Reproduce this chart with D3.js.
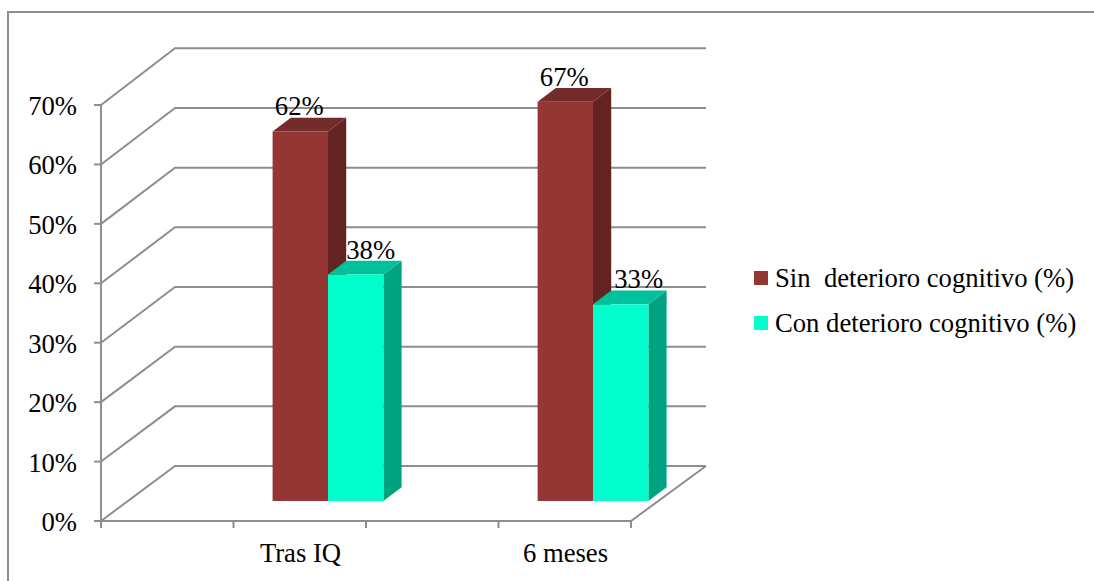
<!DOCTYPE html>
<html>
<head>
<meta charset="utf-8">
<script src="https://cdn.jsdelivr.net/npm/d3@7"></script>
<style>
html, body { margin: 0; padding: 0; background: #fff; }
svg { display: block; }
text { font-family: "Liberation Serif", serif; fill: #000; }
</style>
</head>
<body>
<svg id="chart" width="1094" height="581"></svg>
<script>
const categories = ["Tras IQ", "6 meses"];
const seriesNames = ["Sin  deterioro cognitivo (%)", "Con deterioro cognitivo (%)"];
const sinDeterioro = [62, 67];
const conDeterioro = [38, 33];
const axisTicks = [0, 10, 20, 30, 40, 50, 60, 70];
const frontColors = ["#943634", "#00ffcc"];
const topColors = ["#742c2a", "#00c19b"];
const sideColors = ["#632321", "#00a380"];
const gridColor = "#8e8e8e";
const fontSize = 26.67;

const svg = d3.select("#chart");

// Front plane scales and the matching scales for the raised back wall
const yAxis = d3.scaleLinear().domain([0, 70]).range([521, 105]);
const yBack = d3.scaleLinear().domain([0, 70]).range([466, 48.3]);
const xAxis = d3.scaleLinear().domain([0, 1]).range([101, 631]);
const xBack = d3.scaleLinear().domain([0, 1]).range([175, 706]);
const xCategory = d3.scaleBand().domain(categories).range([168, 698]);

// Bars stand on their own floor line, in front of the back wall
const barBase = 501;
const barHeight = d3.scaleLinear().domain([0, 100]).range([0, 596]);
const barWidth = 55.4;
const barDepth = { x: 18.2, y: -13.8 };
const labelShift = [[-1, -1], [15, 18]];

const grid = svg.append("g").attr("fill", "none").attr("stroke", gridColor).attr("stroke-width", 2);

// Chart frame, open on the page edges
grid.append("path").attr("d", d3.line()([[8, 581], [8, 12], [1094, 12]]));

// Side wall diagonals and back wall gridlines
axisTicks.forEach(t => {
  grid.append("path").attr("d", d3.line()([
    [xAxis(0), yAxis(t)],
    [xBack(0), yBack(t)],
    [xBack(1), yBack(t)]
  ]));
  grid.append("line").attr("x1", xAxis(0) - 7).attr("x2", xAxis(0)).attr("y1", yAxis(t)).attr("y2", yAxis(t));
});

// Vertical axis, floor edges and category ticks
grid.append("line").attr("x1", xAxis(0)).attr("x2", xAxis(0)).attr("y1", yAxis(70)).attr("y2", yAxis(0));
grid.append("path").attr("d", d3.line()([
  [xAxis(0), yAxis(0)],
  [xAxis(1), yAxis(0)],
  [xBack(1), yBack(0)]
]));
d3.range(0, 1.01, 0.25).forEach(f => {
  grid.append("line").attr("x1", xAxis(f)).attr("x2", xAxis(f)).attr("y1", yAxis(0)).attr("y2", yAxis(0) + 7);
});

// Axis labels
svg.append("g").selectAll("text").data(axisTicks).join("text")
  .attr("x", 77).attr("y", d => yAxis(d) + 10)
  .attr("text-anchor", "end").attr("font-size", fontSize)
  .text(d => d + "%");

svg.append("g").selectAll("text").data(categories).join("text")
  .attr("x", d => xCategory(d) + xCategory.bandwidth() / 2).attr("y", 562)
  .attr("text-anchor", "middle").attr("font-size", fontSize)
  .text(d => d);

// Bars, drawn series by series so each one overlaps the previous one's side
[sinDeterioro, conDeterioro].forEach((values, s) => {
  categories.forEach((c, i) => {
    const center = xCategory(c) + xCategory.bandwidth() / 2 + 27.5;
    const x0 = center + (s - 1) * barWidth;
    const x1 = x0 + barWidth;
    const top = barBase - barHeight(values[i]);
    const g = svg.append("g");
    g.append("path").attr("fill", sideColors[s]).attr("d", d3.line()([
      [x1, top], [x1 + barDepth.x, top + barDepth.y],
      [x1 + barDepth.x, barBase + barDepth.y], [x1, barBase]
    ]) + "Z");
    g.append("path").attr("fill", topColors[s]).attr("d", d3.line()([
      [x0, top], [x0 + barDepth.x, top + barDepth.y],
      [x1 + barDepth.x, top + barDepth.y], [x1, top]
    ]) + "Z");
    g.append("rect").attr("fill", frontColors[s])
      .attr("x", x0).attr("y", top).attr("width", barWidth).attr("height", barBase - top);
  });
});

// Value labels sit on top of the bars
[sinDeterioro, conDeterioro].forEach((values, s) => {
  categories.forEach((c, i) => {
    const center = xCategory(c) + xCategory.bandwidth() / 2 + 27.5;
    const x0 = center + (s - 1) * barWidth;
    svg.append("text")
      .attr("x", x0 + barWidth / 2 + labelShift[s][i])
      .attr("y", barBase - barHeight(values[i]) - 16)
      .attr("text-anchor", "middle").attr("font-size", fontSize)
      .text(values[i] + "%");
  });
});

// Legend
const legendY = [271, 316];
seriesNames.forEach((name, s) => {
  svg.append("rect").attr("x", 754).attr("y", legendY[s]).attr("width", 14).attr("height", 14).attr("fill", frontColors[s]);
  svg.append("text").attr("x", 775).attr("y", legendY[s] + 15.5).attr("font-size", fontSize)
    .style("white-space", "pre").text(name);
});
</script>
</body>
</html>
